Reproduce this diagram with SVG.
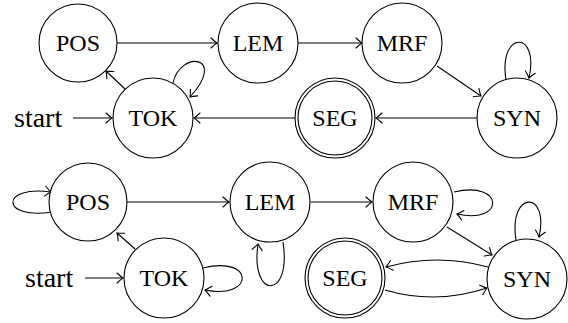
<svg xmlns="http://www.w3.org/2000/svg" width="568" height="323" viewBox="0 0 568 323">
<defs>
<marker id="ar" markerUnits="userSpaceOnUse" markerWidth="14" markerHeight="14" viewBox="-7 -7 14 14" refX="0" refY="0" orient="auto">
<path d="M -6 -5 Q -2 -1.2 0 0 Q -2 1.2 -6 5" fill="none" stroke="#000" stroke-width="1.1" stroke-linecap="round"/>
</marker>
</defs>
<style>
.n{fill:#fff;stroke:#000;stroke-width:1.1}
.e{fill:none;stroke:#000;stroke-width:1.1;marker-end:url(#ar)}
</style>
<rect width="568" height="323" fill="#fff"/>
<g id="connectors">
<line class="e" x1="117" y1="43" x2="217" y2="43"/>
<line class="e" x1="298" y1="43" x2="362" y2="43"/>
<line class="e" x1="437" y1="66" x2="481" y2="96"/>
<path class="e" d="M 506 80 C 498 30 540 30 529 78"/>
<line class="e" x1="477" y1="118" x2="376" y2="118"/>
<line class="e" x1="295" y1="118" x2="194" y2="118"/>
<line class="e" x1="73" y1="118" x2="112" y2="118"/>
<line class="e" x1="125" y1="89" x2="106" y2="71"/>
<path class="e" d="M 173 83 C 180 50 228 55 190 97"/>
<path class="e" d="M 52 212 C 0 220 0 185 51 192"/>
<line class="e" x1="127" y1="202" x2="229" y2="202"/>
<line class="e" x1="311" y1="202" x2="372" y2="202"/>
<path class="e" d="M 283 242 C 292 300 250 300 258 244"/>
<path class="e" d="M 454 192 C 505 180 505 225 457 214"/>
<line class="e" x1="447" y1="227" x2="492" y2="255"/>
<path class="e" d="M 516 240 C 508 190 550 190 539 237"/>
<path class="e" d="M 488 267 Q 437 253 386 267"/>
<path class="e" d="M 385 290 Q 436 305 487 288"/>
<line class="e" x1="85" y1="278" x2="123" y2="278"/>
<line class="e" x1="135" y1="249" x2="117" y2="233"/>
<path class="e" d="M 203 268 C 255 255 255 300 205 290"/>
</g>
<text x="14" y="127" font-size="28" font-family="Liberation Serif, Times New Roman, serif">start</text>
<text x="25" y="287" font-size="28" font-family="Liberation Serif, Times New Roman, serif">start</text>
<g id="pos1"><circle class="n" cx="78" cy="43" r="39"/><text x="78" y="51" text-anchor="middle" font-size="24" font-family="Liberation Serif, Times New Roman, serif">POS</text></g>
<g id="lem1"><circle class="n" cx="258" cy="43" r="40"/><text x="258" y="51" text-anchor="middle" font-size="24" font-family="Liberation Serif, Times New Roman, serif">LEM</text></g>
<g id="mrf1"><circle class="n" cx="402" cy="43" r="40"/><text x="402" y="51" text-anchor="middle" font-size="24" font-family="Liberation Serif, Times New Roman, serif">MRF</text></g>
<g id="tok1"><circle class="n" cx="153" cy="118" r="40"/><text x="153" y="126" text-anchor="middle" font-size="24" font-family="Liberation Serif, Times New Roman, serif">TOK</text></g>
<g id="seg1"><circle class="n" cx="335" cy="118" r="40"/><circle class="n" cx="335" cy="118" r="37"/><text x="335" y="126" text-anchor="middle" font-size="24" font-family="Liberation Serif, Times New Roman, serif">SEG</text></g>
<g id="syn1"><circle class="n" cx="517" cy="118" r="40"/><text x="517" y="126" text-anchor="middle" font-size="24" font-family="Liberation Serif, Times New Roman, serif">SYN</text></g>
<g id="pos2"><circle class="n" cx="88" cy="202" r="39"/><text x="88" y="210" text-anchor="middle" font-size="24" font-family="Liberation Serif, Times New Roman, serif">POS</text></g>
<g id="lem2"><circle class="n" cx="270" cy="202" r="40"/><text x="270" y="210" text-anchor="middle" font-size="24" font-family="Liberation Serif, Times New Roman, serif">LEM</text></g>
<g id="mrf2"><circle class="n" cx="413" cy="202" r="40"/><text x="413" y="210" text-anchor="middle" font-size="24" font-family="Liberation Serif, Times New Roman, serif">MRF</text></g>
<g id="tok2"><circle class="n" cx="164" cy="278" r="40"/><text x="164" y="286" text-anchor="middle" font-size="24" font-family="Liberation Serif, Times New Roman, serif">TOK</text></g>
<g id="seg2"><circle class="n" cx="345" cy="278" r="40"/><circle class="n" cx="345" cy="278" r="37"/><text x="345" y="286" text-anchor="middle" font-size="24" font-family="Liberation Serif, Times New Roman, serif">SEG</text></g>
<g id="syn2"><circle class="n" cx="527" cy="279" r="40"/><text x="527" y="287" text-anchor="middle" font-size="24" font-family="Liberation Serif, Times New Roman, serif">SYN</text></g>
</svg>
